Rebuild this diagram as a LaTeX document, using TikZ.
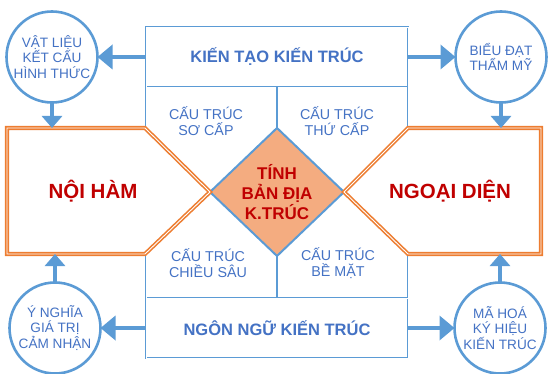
\documentclass[tikz,border=0pt]{standalone}
\usepackage{fontspec}
\setmainfont{Liberation Sans}
\usetikzlibrary{arrows.meta,shapes.geometric}
\definecolor{lblue}{HTML}{5B9BD5}
\definecolor{tblue}{HTML}{4472C4}
\definecolor{orng}{HTML}{ED7D31}
\definecolor{dfill}{HTML}{F4AC80}
\definecolor{dred}{HTML}{C00000}
\begin{document}
\begin{tikzpicture}[x=1pt,y=-1pt,
  frame/.style={draw=lblue, double=white, line width=0.8pt, double distance=0.9pt},
  bandbox/.style={frame, fill=white, minimum width=262pt, minimum height=60pt, inner sep=0pt, outer sep=0pt,
     text=tblue, font=\fontsize{16.5}{18}\selectfont\bfseries},
  hexa/.style={draw=orng, fill=white, double=white, line width=1.6pt, double distance=0.9pt, line join=miter},
  circ/.style={circle, draw=lblue, line width=2.6pt, fill=white, minimum size=91pt, inner sep=0pt, outer sep=0pt,
     align=center, text=tblue, font=\fontsize{13.6}{15.5}\selectfont},
  lbl/.style={align=center, text=tblue, inner sep=0pt, font=\fontsize{14.3}{16.5}\selectfont},
  bigred/.style={text=dred, inner sep=0pt, font=\fontsize{20.5}{24}\selectfont\bfseries},
  harr/.style={draw=lblue, line width=4pt, -{Triangle[length=15pt,width=24pt]}},
  varr/.style={draw=lblue, line width=4pt, -{Triangle[length=12pt,width=20pt]}},
]
\useasboundingbox (0,0) rectangle (548,374);

% blue frame
\node[bandbox] (kt) at (277,57) {KIẾN TẠO KIẾN TRÚC};
\node[bandbox] (nn) at (277,328) {NGÔN NGỮ KIẾN TRÚC};
\draw[frame] (kt.south west) -- (nn.north west);
\draw[frame] (kt.south east) -- (nn.north east);

% diamond
\node[diamond, draw=lblue, line width=2pt, fill=dfill, minimum width=134pt, minimum height=128pt,
      inner sep=0pt, outer sep=0pt, align=center, text=dred,
      font=\fontsize{17}{20}\selectfont\bfseries] (dm) at (277,192) {TÍNH\\BẢN ĐỊA\\K.TRÚC};
\draw[lblue, line width=1.4pt] (kt.south) -- (dm.north);
\draw[lblue, line width=1.4pt] (dm.south) -- (nn.north);

% hexagons
\draw[hexa] (7,128) -- (145,128) -- (dm.west) -- (145,254) -- (7,254) -- cycle;
\draw[hexa] (541,128) -- (408,128) -- (dm.east) -- (408,254) -- (541,254) -- cycle;
\node[bigred] (nh) at (93,191) {NỘI HÀM};
\node[bigred] (nd) at (450,191) {NGOẠI DIỆN};

% quadrant labels
\node[lbl] (q1) at (206,121) {CẤU TRÚC\\SƠ CẤP};
\node[lbl] (q2) at (337,121) {CẤU TRÚC\\THỨ CẤP};
\node[lbl] (q3) at (208,263) {CẤU TRÚC\\CHIỀU SÂU};
\node[lbl] (q4) at (338,263) {CẤU TRÚC\\BỀ MẶT};

% circles
\node[circ] (c1) at (52,57) {VẬT LIỆU\\KẾT CẤU\\HÌNH THỨC};
\node[circ] (c2) at (501,57) {BIỂU ĐẠT\\THẨM MỸ};
\node[circ] (c3) at (55,328) {Ý NGHĨA\\GIÁ TRỊ\\CẢM NHẬN};
\node[circ] (c4) at (500,328) {MÃ HOÁ\\KÝ HIỆU\\KIẾN TRÚC};

% hexagon edge points
\coordinate (hLt) at (52,128);
\coordinate (hRt) at (501,128);
\coordinate (hLb) at (55,254);
\coordinate (hRb) at (500,254);

% arrows
\draw[harr] (kt.west) -- (c1.east);
\draw[harr] (kt.east) -- (c2.west);
\draw[harr] (nn.west) -- (c3.east);
\draw[harr] (nn.east) -- (c4.west);
\draw[varr] (c1.south) -- (hLt);
\draw[varr] (c2.south) -- (hRt);
\draw[varr] (c3.north) -- (hLb);
\draw[varr] (c4.north) -- (hRb);
\end{tikzpicture}
\end{document}
